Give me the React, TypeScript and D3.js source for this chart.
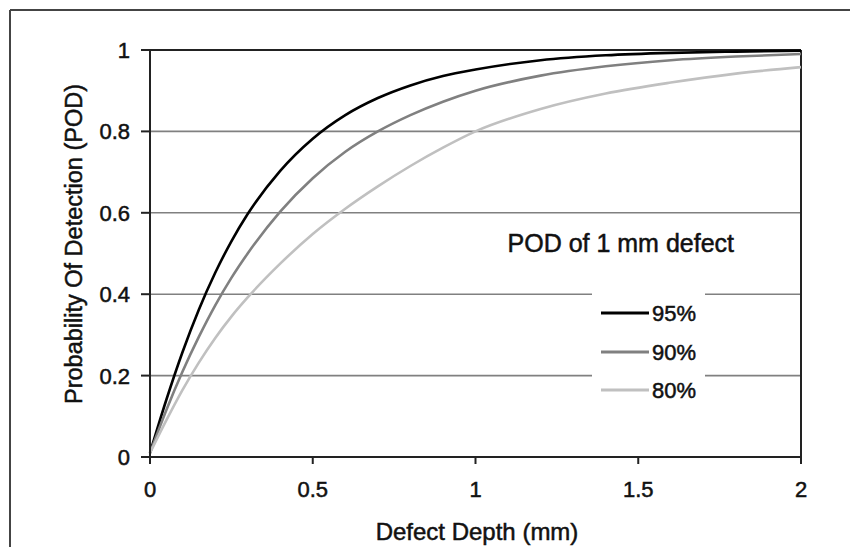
import React from "react";
import * as d3 from "d3";

const depths = [0, 0.05, 0.1, 0.15, 0.2, 0.25, 0.3, 0.4, 0.5, 0.6, 0.7, 0.8, 0.9, 1.0, 1.2, 1.4, 1.6, 1.8, 2.0];
const pod95 = [0.01, 0.14, 0.258, 0.362, 0.452, 0.53, 0.597, 0.703, 0.782, 0.84, 0.882, 0.913, 0.936, 0.952, 0.975, 0.987, 0.993, 0.996, 0.998];
const pod90 = [0.01, 0.115, 0.21, 0.295, 0.372, 0.44, 0.5, 0.603, 0.685, 0.75, 0.8, 0.84, 0.873, 0.9, 0.937, 0.96, 0.975, 0.984, 0.99];
const pod80 = [0.01, 0.09, 0.165, 0.232, 0.292, 0.345, 0.392, 0.475, 0.548, 0.61, 0.665, 0.715, 0.76, 0.8, 0.855, 0.893, 0.92, 0.942, 0.958];
const seriesNames = ["95%", "90%", "80%"];
const seriesColors = ["#000000", "#808080", "#c0c0c0"];
const xTicks = [0, 0.5, 1, 1.5, 2];
const yTicks = [0, 0.2, 0.4, 0.6, 0.8, 1];

export default function App() {
  const W = 850, H = 547;
  const x = d3.scaleLinear().domain([0, 2]).range([150, 801]);
  const y = d3.scaleLinear().domain([0, 1]).range([457, 50]);
  const series = [pod95, pod90, pod80];
  const line = d3
    .line<number>()
    .x((_, i) => x(depths[i]))
    .y((d) => y(d))
    .curve(d3.curveMonotoneX);
  const font = "Arial, 'Liberation Sans', sans-serif";
  const txt = { fill: "#111", stroke: "#111", strokeWidth: 0.5 } as const;
  const legendX = 592, legendW = 113, legendTop = 282, legendH = 122;
  return (
    <svg width={W} height={H} style={{ position: "absolute", left: 0, top: 0 }} fontFamily={font}>
      <rect x={0} y={0} width={W} height={H} fill="#fff" />
      {/* outer frame */}
      <line x1={10} y1={10} x2={W} y2={10} stroke="#444" strokeWidth={2} />
      <line x1={10} y1={10} x2={10} y2={H} stroke="#444" strokeWidth={2} />
      {/* gridlines */}
      {yTicks.filter((t) => t > 0 && t < 1).map((t) => (
        <line key={t} x1={x(0)} x2={x(2)} y1={y(t)} y2={y(t)} stroke="#808080" strokeWidth={1.6} />
      ))}
      <line x1={x(0)} x2={x(2)} y1={y(1)} y2={y(1)} stroke="#222" strokeWidth={2} />
      <line x1={x(2)} x2={x(2)} y1={y(1)} y2={y(0) + 7} stroke="#222" strokeWidth={2} />
      {/* legend background */}
      <rect x={legendX} y={legendTop} width={legendW} height={legendH} fill="#fff" />
      {/* curves */}
      {series.map((s, k) => (
        <path key={k} d={line(s) || ""} fill="none" stroke={seriesColors[k]} strokeWidth={2.6} />
      ))}
      {/* axes */}
      <line x1={x(0)} x2={x(0)} y1={y(1)} y2={y(0) + 7} stroke="#222" strokeWidth={2} />
      <line x1={x(0)} x2={x(2)} y1={y(0)} y2={y(0)} stroke="#222" strokeWidth={2} />
      {yTicks.map((t) => (
        <g key={t}>
          <line x1={x(0) - 9} x2={x(0)} y1={y(t)} y2={y(t)} stroke="#222" strokeWidth={2} />
          <text x={130} y={y(t)} dy="0.36em" textAnchor="end" fontSize={22} {...txt}>
            {d3.format("")(t)}
          </text>
        </g>
      ))}
      {xTicks.map((t) => (
        <g key={t}>
          <line x1={x(t)} x2={x(t)} y1={y(0)} y2={y(0) + 7} stroke="#222" strokeWidth={2} />
          <text x={x(t)} y={497} textAnchor="middle" fontSize={22} {...txt}>
            {d3.format("")(t)}
          </text>
        </g>
      ))}
      <text x={477} y={540} textAnchor="middle" fontSize={24} {...txt}>Defect Depth (mm)</text>
      <text transform={`translate(82, 244) rotate(-90)`} textAnchor="middle" fontSize={23.5} {...txt}>
        Probability Of Detection (POD)
      </text>
      {/* legend */}
      <text x={734} y={252} textAnchor="end" fontSize={25} {...txt}>POD of 1 mm defect</text>
      {seriesNames.map((n, k) => {
        const ly = [313, 352, 390][k];
        return (
          <g key={n}>
            <line x1={601} x2={649} y1={ly} y2={ly} stroke={seriesColors[k]} strokeWidth={3} />
            <text x={652} y={ly} dy="0.36em" fontSize={22} {...txt}>{n}</text>
          </g>
        );
      })}
    </svg>
  );
}
